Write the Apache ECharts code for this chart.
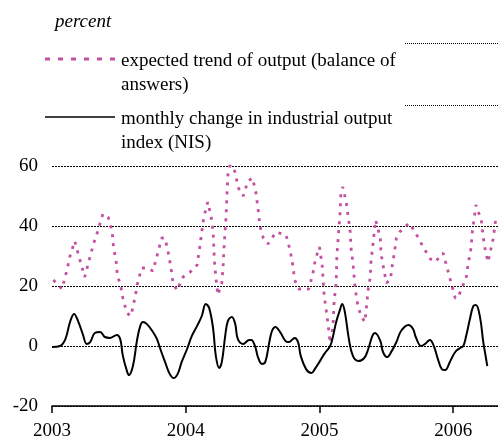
<!DOCTYPE html>
<html>
<head>
<meta charset="utf-8">
<script src="https://cdn.jsdelivr.net/npm/echarts@6/dist/echarts.min.js"></script>
<style>
html, body { margin: 0; padding: 0; background: #fff; }
#main { width: 498px; height: 441px; }
</style>
</head>
<body>
<div id="main"></div>
<script>
// series names
var seriesNames = ['expected trend of output (balance of\nanswers)', 'monthly change in industrial output\nindex (NIS)'];
var yearTicks = [2003, 2004, 2005, 2006];

// expected trend of output (balance of answers), x in decimal years
var trendX = [2003.01, 2003.075, 2003.11, 2003.135, 2003.17, 2003.20, 2003.245, 2003.28, 2003.31, 2003.34,
  2003.38, 2003.42, 2003.45, 2003.46, 2003.48, 2003.49, 2003.51, 2003.53, 2003.56, 2003.59,
  2003.62, 2003.64, 2003.67, 2003.71, 2003.755, 2003.785, 2003.82, 2003.845, 2003.87, 2003.89,
  2003.905, 2003.935, 2003.98, 2004.03, 2004.085, 2004.105, 2004.12, 2004.135, 2004.165, 2004.19,
  2004.205, 2004.21, 2004.215, 2004.225, 2004.24, 2004.27, 2004.28, 2004.285, 2004.30, 2004.315,
  2004.34, 2004.375, 2004.39, 2004.43, 2004.465, 2004.50, 2004.525, 2004.54, 2004.555, 2004.58,
  2004.615, 2004.675, 2004.75, 2004.78, 2004.80, 2004.815, 2004.845, 2004.92, 2004.95, 2004.97,
  2005.00, 2005.02, 2005.035, 2005.05, 2005.065, 2005.08, 2005.10, 2005.11, 2005.125, 2005.13,
  2005.14, 2005.155, 2005.16, 2005.175, 2005.20, 2005.215, 2005.23, 2005.235, 2005.25, 2005.265,
  2005.28, 2005.31, 2005.34, 2005.365, 2005.38, 2005.385, 2005.40, 2005.42, 2005.455, 2005.46,
  2005.475, 2005.50, 2005.53, 2005.545, 2005.56, 2005.575, 2005.60, 2005.67, 2005.70, 2005.74,
  2005.775, 2005.83, 2005.865, 2005.925, 2005.955, 2005.985, 2006.015, 2006.035, 2006.08, 2006.095,
  2006.11, 2006.135, 2006.14, 2006.155, 2006.17, 2006.21, 2006.225, 2006.24, 2006.26, 2006.30, 2006.32];
var trendY = [22, 19, 25, 30, 35, 30, 23, 29, 34, 38,
  44, 43, 38, 33, 28, 23, 21, 16, 11, 10,
  16, 21, 26, 26, 25, 30, 36, 36, 31, 26,
  21, 18.5, 23, 24.5, 27, 33, 38, 43, 48, 43,
  38, 33, 28, 23, 17, 21, 27, 32, 42, 57,
  62, 57, 53, 50, 55, 56, 51, 46, 40, 36,
  34, 38, 37, 32, 27, 22, 19, 19, 24, 29,
  33, 27, 17, 12, 7, 1, 6, 15, 21, 30,
  36, 45, 51, 53, 48, 43, 38, 33, 28, 20,
  15, 10, 8, 19, 23, 28, 34, 42, 36, 31,
  27, 21, 22, 27, 31, 36, 38, 41, 39, 36,
  33, 29, 28, 31, 26, 21, 16, 16, 21, 22,
  27, 33, 37, 42, 47, 42, 36, 32, 28, 36, 43];

// monthly change in industrial output index (NIS)
var changeX = [2003.00, 2003.06, 2003.10, 2003.135, 2003.165, 2003.195, 2003.23, 2003.26, 2003.285, 2003.32,
  2003.36, 2003.395, 2003.435, 2003.485, 2003.51, 2003.53, 2003.56, 2003.575, 2003.605, 2003.635,
  2003.66, 2003.68, 2003.71, 2003.75, 2003.785, 2003.81, 2003.845, 2003.88, 2003.91, 2003.94,
  2003.97, 2004.01, 2004.045, 2004.085, 2004.12, 2004.15, 2004.175, 2004.205, 2004.225, 2004.25,
  2004.27, 2004.295, 2004.315, 2004.345, 2004.37, 2004.39, 2004.43, 2004.475, 2004.49, 2004.52,
  2004.54, 2004.57, 2004.595, 2004.625, 2004.645, 2004.67, 2004.705, 2004.745, 2004.77, 2004.815,
  2004.84, 2004.86, 2004.90, 2004.94, 2004.965, 2005.00, 2005.035, 2005.08, 2005.10, 2005.125,
  2005.155, 2005.17, 2005.19, 2005.22, 2005.25, 2005.29, 2005.335, 2005.365, 2005.395, 2005.415,
  2005.455, 2005.475, 2005.505, 2005.54, 2005.575, 2005.61, 2005.665, 2005.70, 2005.72, 2005.76,
  2005.79, 2005.825, 2005.855, 2005.885, 2005.915, 2005.94, 2005.975, 2006.015, 2006.05, 2006.075,
  2006.095, 2006.125, 2006.15, 2006.17, 2006.20, 2006.225, 2006.24, 2006.255];
var changeY = [-0.3, 0, 2.3, 8, 10.7, 8.3, 4, 0.7, 1.3, 4.3,
  4.7, 3, 2.7, 3.7, 2.3, -3.3, -8.3, -9.7, -6.7, 1.7,
  6.7, 8, 7.3, 5, 2.3, -1, -5.3, -9.3, -10.7, -9.3,
  -5.3, -1, 3.3, 6.7, 10, 14, 12.7, 5.7, -3.3, -7.3,
  -5.3, 3.3, 8.3, 9.7, 7.3, 2.3, 0.7, 2, 2, -0.3,
  -3.7, -6, -5.3, 1.3, 5, 6.3, 4.7, 1.7, 1.3, 2.7,
  1.3, -3.3, -7.7, -9, -7.7, -5.3, -2.7, 0, 3, 8,
  12.3, 14, 11.3, 2.3, -3.3, -5, -4, -1, 3.3, 4.3,
  1.7, -2, -3.7, -1.7, 1.3, 5, 7, 5.7, 3, 0,
  0.7, 2, 0, -4.3, -7.7, -8, -5.3, -2, -0.7, 0,
  3, 9, 13.3, 13.7, 9.7, 1.3, -2.7, -6.7];

function zip(xs, ys) {
  return xs.map(function (x, i) { return [x, ys[i]]; });
}

var font = 'Liberation Serif';
var pink = '#c4519f';

var myChart = echarts.init(document.getElementById('main'));

var option = {
  animation: false,
  grid: { left: 52, right: 0, top: 166, bottom: 35, containLabel: false },
  xAxis: {
    type: 'value',
    min: 2003,
    max: 2006.335,
    interval: 1,
    axisLine: { show: true, onZero: false, lineStyle: { color: '#000', width: 1.5 } },
    axisTick: { show: true, customValues: yearTicks, length: 7, lineStyle: { color: '#000', width: 1.5 } },
    axisLabel: {
      customValues: yearTicks, margin: 16, color: '#000', fontFamily: font, fontSize: 19,
      formatter: function (v) { return String(v); }
    },
    splitLine: { show: false }
  },
  yAxis: {
    type: 'value',
    min: -20,
    max: 60,
    interval: 20,
    axisLine: { show: false },
    axisTick: { show: false },
    axisLabel: { margin: 14, color: '#000', fontFamily: font, fontSize: 19 },
    splitLine: { show: true, lineStyle: { color: '#000', width: 1, type: [2, 1] } }
  },
  series: [{
    name: seriesNames[0],
    type: 'line',
    data: zip(trendX, trendY),
    symbol: 'none',
    lineStyle: { color: pink, width: 2.8, type: [3, 6] },
    z: 3
  }, {
    name: seriesNames[1],
    type: 'line',
    data: zip(changeX, changeY),
    symbol: 'none',
    smooth: 0.4,
    lineStyle: { color: '#000', width: 2 },
    z: 4
  }],
  graphic: [
    { type: 'text', left: 55, top: 12, style: { text: 'percent', font: 'italic 19px "Liberation Serif"', fill: '#000' } },
    { type: 'line', shape: { x1: 45, y1: 59, x2: 115, y2: 59 }, style: { stroke: pink, lineWidth: 3, lineDash: [5, 8] } },
    { type: 'text', left: 121, top: 49, style: { text: seriesNames[0], font: '19px "Liberation Serif"', lineHeight: 24, fill: '#000' } },
    { type: 'line', shape: { x1: 45, y1: 117, x2: 115, y2: 117 }, style: { stroke: '#000', lineWidth: 1.5 } },
    { type: 'text', left: 121, top: 107, style: { text: seriesNames[1], font: '19px "Liberation Serif"', lineHeight: 24, fill: '#000' } },
    { type: 'line', shape: { x1: 405, y1: 43.5, x2: 498, y2: 43.5 }, style: { stroke: '#000', lineWidth: 1, lineDash: [1, 1] } },
    { type: 'line', shape: { x1: 405, y1: 105.5, x2: 498, y2: 105.5 }, style: { stroke: '#000', lineWidth: 1, lineDash: [1, 1] } }
  ]
};

myChart.setOption(option);
</script>
</body>
</html>
